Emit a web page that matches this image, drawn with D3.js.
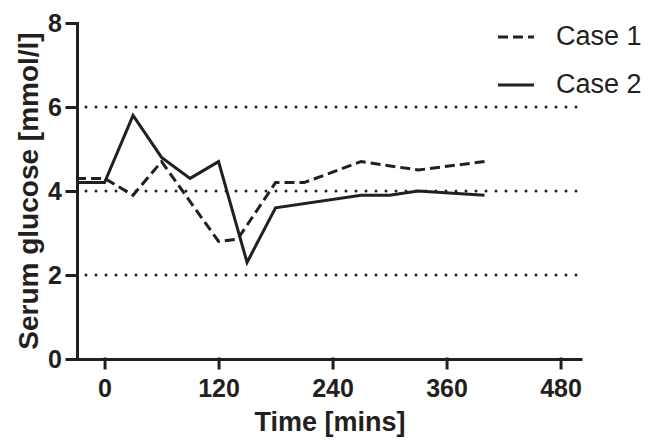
<!DOCTYPE html>
<html>
<head>
<meta charset="utf-8">
<script src="https://cdn.jsdelivr.net/npm/d3@7"></script>
<style>
  body { margin: 0; background: #fff; }
  svg { display: block; font-family: "Liberation Sans", Arial, sans-serif; }
</style>
</head>
<body>
<div id="viz"></div>
<script>
// data
let case1Time = [-30, 0, 30, 60, 120, 140, 180, 210, 270, 330, 400];
let case1Glucose = [4.3, 4.3, 3.9, 4.7, 2.8, 2.85, 4.2, 4.2, 4.7, 4.5, 4.7];

let case2Time = [-30, 0, 30, 60, 90, 120, 150, 180, 270, 300, 330, 400];
let case2Glucose = [4.2, 4.2, 5.8, 4.8, 4.3, 4.7, 2.3, 3.6, 3.9, 3.9, 4.0, 3.9];

let xTicks = [0, 120, 240, 360, 480];
let yTicks = [0, 2, 4, 6, 8];
let refLines = [2, 4, 6];
let seriesNames = ['Case 1', 'Case 2'];

let width = 652,
    height = 443,
    ink = '#231f20';

let xScale = d3.scaleLinear()
      .domain([-29, 501])
      .range([77, 580.5]);
let yScale = d3.scaleLinear()
      .domain([0, 8])
      .range([359, 23]);

let svg = d3.select('#viz').append('svg')
    .attr('width', width)
    .attr('height', height);

// dotted reference lines
svg.append('g').selectAll('line').data(refLines)
  .enter().append('line')
    .attr('x1', xScale(-29) + 9)
    .attr('x2', xScale(501))
    .attr('y1', d => yScale(d))
    .attr('y2', d => yScale(d))
    .attr('stroke', ink)
    .attr('stroke-width', 3)
    .attr('stroke-linecap', 'round')
    .attr('stroke-dasharray', '0,10');

// series
let series = [
  {name: seriesNames[0], time: case1Time, vals: case1Glucose, dash: '10,5'},
  {name: seriesNames[1], time: case2Time, vals: case2Glucose, dash: null}
];

let line = d3.line()
    .x(d => xScale(d[0]))
    .y(d => yScale(d[1]));

svg.append('g').selectAll('path').data(series)
  .enter().append('path')
    .attr('d', s => line(s.time.map((t, i) => [t, s.vals[i]])))
    .attr('fill', 'none')
    .attr('stroke', ink)
    .attr('stroke-width', 3)
    .attr('stroke-linejoin', 'miter')
    .attr('stroke-dasharray', s => s.dash);

// axes
let xAxis = d3.axisBottom(xScale)
    .tickValues(xTicks)
    .tickSize(9)
    .tickSizeOuter(0)
    .tickPadding(11);
let yAxis = d3.axisLeft(yScale)
    .tickValues(yTicks)
    .tickSize(10)
    .tickSizeOuter(0)
    .tickPadding(5);

let xGuide = svg.append('g')
    .attr('transform', 'translate(0,' + yScale(0) + ')')
    .call(xAxis);
let yGuide = svg.append('g')
    .attr('transform', 'translate(' + xScale(-29) + ',0)')
    .call(yAxis);

[xGuide, yGuide].forEach(function(g){
  g.selectAll('path, line')
    .attr('stroke', ink)
    .attr('stroke-width', 3)
    .attr('stroke-linecap', 'square');
  g.selectAll('text')
    .attr('fill', ink)
    .style('font-size', '25px')
    .style('font-weight', 'bold')
    .style('font-family', '"Liberation Sans", Arial, sans-serif');
});

// axis titles
svg.append('text')
    .attr('x', 330)
    .attr('y', 431)
    .attr('text-anchor', 'middle')
    .attr('fill', ink)
    .style('font-size', '27px')
    .style('font-weight', 'bold')
    .text('Time [mins]');

svg.append('text')
    .attr('transform', 'translate(38,' + ((yScale(0) + yScale(8)) / 2) + ') rotate(-90)')
    .attr('text-anchor', 'middle')
    .attr('fill', ink)
    .style('font-size', '28px')
    .style('font-weight', 'bold')
    .text('Serum glucose [mmol/l]');

// legend
let legend = svg.append('g').selectAll('g').data(series)
  .enter().append('g')
    .attr('transform', (d, i) => 'translate(498,' + (37 + i * 48) + ')');

legend.append('line')
    .attr('x1', 0)
    .attr('x2', 36)
    .attr('y1', 0)
    .attr('y2', 0)
    .attr('stroke', ink)
    .attr('stroke-width', 3)
    .attr('stroke-dasharray', d => d.dash);

legend.append('text')
    .attr('x', 58)
    .attr('y', 8)
    .attr('fill', ink)
    .style('font-size', '27px')
    .text(d => d.name);
</script>
</body>
</html>
